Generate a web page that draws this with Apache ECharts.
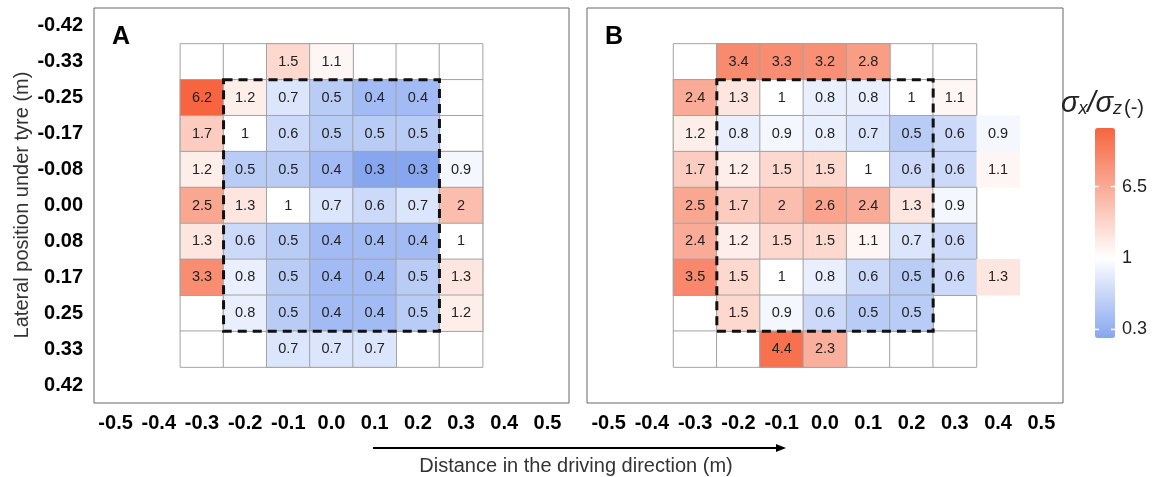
<!DOCTYPE html>
<html><head><meta charset="utf-8">
<script src="https://cdn.jsdelivr.net/npm/echarts@6/dist/echarts.min.js"></script>
<style>html,body{margin:0;padding:0;background:#fff}#c{width:1167px;height:477px}</style>
</head><body><div id="c"></div>
<script>
// ---- data ----
const xLabels = ['-0.5','-0.4','-0.3','-0.2','-0.1','0.0','0.1','0.2','0.3','0.4','0.5'];
const yLabels = ['-0.42','-0.33','-0.25','-0.17','-0.08','0.00','0.08','0.17','0.25','0.33','0.42'];
const frameCols = ['-0.3','-0.2','-0.1','0.0','0.1','0.2','0.3'];
const dataRows = ['-0.33','-0.25','-0.17','-0.08','0.00','0.08','0.17','0.25','0.33'];

const colsA = ['-0.3','-0.2','-0.1','0.0','0.1','0.2','0.3'];
const valuesA = [
  [null, null, 1.5, 1.1, null, null, null],
  [6.2, 1.2, 0.7, 0.5, 0.4, 0.4, null],
  [1.7, 1,   0.6, 0.5, 0.5, 0.5, null],
  [1.2, 0.5, 0.5, 0.4, 0.3, 0.3, 0.9],
  [2.5, 1.3, 1,   0.7, 0.6, 0.7, 2],
  [1.3, 0.6, 0.5, 0.4, 0.4, 0.4, 1],
  [3.3, 0.8, 0.5, 0.4, 0.4, 0.5, 1.3],
  [null, 0.8, 0.5, 0.4, 0.4, 0.5, 1.2],
  [null, null, 0.7, 0.7, 0.7, null, null]
];
const colsB = ['-0.3','-0.2','-0.1','0.0','0.1','0.2','0.3','0.4'];
const valuesB = [
  [null, 3.4, 3.3, 3.2, 2.8, null, null, null],
  [2.4, 1.3, 1,   0.8, 0.8, 1,   1.1, null],
  [1.2, 0.8, 0.9, 0.8, 0.7, 0.5, 0.6, 0.9],
  [1.7, 1.2, 1.5, 1.5, 1,   0.6, 0.6, 1.1],
  [2.5, 1.7, 2,   2.6, 2.4, 1.3, 0.9, null],
  [2.4, 1.2, 1.5, 1.5, 1.1, 0.7, 0.6, null],
  [3.5, 1.5, 1,   0.8, 0.6, 0.5, 0.6, 1.3],
  [null, 1.5, 0.9, 0.6, 0.5, 0.5, null, null],
  [null, null, 4.4, 2.3, null, null, null, null]
];
const unframedCols = ['0.4'];
const dashedBox = { x: ['-0.2', '0.2'], y: ['-0.25', '0.25'] };
const colorbarTicks = ['0.3', '1', '6.5'];
const panelLetters = ['A', 'B'];

// ---- styles ----
const FONT = '"Liberation Sans", Arial, sans-serif';
const BLUE = [134, 166, 240], WHITE = [255, 255, 255], RED = [246, 101, 64];
const gridsPx = [{ left: 94, top: 8, width: 475, height: 395 }, { left: 587, top: 8, width: 476, height: 395 }];
const CB = { left: 1095, top: 128, w: 20, h: 210, min: -0.12, max: 2.82 };

function colorT(v) { // log-scaled diverging position in [-1,1]
  const l = Math.log10(v);
  const t = l < 0 ? l / 0.523 : l / 0.7;
  return Math.max(-1, Math.min(1, t));
}
function mix(a, b, f) { return 'rgb(' + a.map((c, i) => Math.round(c + (b[i] - c) * f)).join(',') + ')'; }
const barStops = [];
for (let k = 0; k <= 40; k++) {
  const u = CB.min + (CB.max - CB.min) * k / 40;
  barStops.push(u < 1 ? mix(BLUE, WHITE, (u - CB.min) / (1 - CB.min)) : mix(WHITE, RED, (u - 1) / (CB.max - 1)));
}

function frameData() {
  const d = [];
  dataRows.forEach(r => frameCols.forEach(c => d.push([xLabels.indexOf(c), yLabels.indexOf(r), 0])));
  return d;
}
function valueData(cols, vals) {
  const d = [];
  vals.forEach((row, ri) => row.forEach((v, ci) => {
    if (v === null) return;
    const item = { value: [xLabels.indexOf(cols[ci]), yLabels.indexOf(dataRows[ri]), v, colorT(v)] };
    if (unframedCols.includes(cols[ci])) item.itemStyle = { borderWidth: 0 };
    d.push(item);
  }));
  return d;
}
const boxData = [[xLabels.indexOf(dashedBox.x[0]), yLabels.indexOf(dashedBox.y[0]),
                  xLabels.indexOf(dashedBox.x[1]), yLabels.indexOf(dashedBox.y[1])]];

function panelSeries(gi, cols, vals) {
  return [
    { type: 'heatmap', xAxisIndex: gi, yAxisIndex: gi, data: frameData(), silent: true,
      itemStyle: { color: '#fff', borderColor: '#a3a3a3', borderWidth: 1 }, emphasis: { disabled: true } },
    { type: 'heatmap', xAxisIndex: gi, yAxisIndex: gi, data: valueData(cols, vals), silent: true,
      itemStyle: { borderColor: '#a3a3a3', borderWidth: 1 }, emphasis: { disabled: true },
      label: { show: true, formatter: p => String(p.value[2]), fontSize: 14.5, color: '#222', fontFamily: FONT } },
    { type: 'custom', xAxisIndex: gi, yAxisIndex: gi, data: boxData, silent: true, z: 10,
      encode: { x: [0, 2], y: [1, 3] },
      renderItem: (params, api) => {
        const p0 = api.coord([api.value(0), api.value(1)]);
        const p1 = api.coord([api.value(2), api.value(3)]);
        const s = api.size([1, 1]);
        return { type: 'rect',
          shape: { x: p0[0] - s[0] / 2, y: p0[1] - s[1] / 2, width: p1[0] - p0[0] + s[0], height: p1[1] - p0[1] + s[1] },
          style: { fill: 'none', stroke: '#111', lineWidth: 3, lineDash: [9, 6] } };
      } }
  ];
}

const series = [...panelSeries(0, colsA, valuesA), ...panelSeries(1, colsB, valuesB),
  { type: 'heatmap', xAxisIndex: 1, yAxisIndex: 1, data: [] }];

const cbY = u => CB.top + CB.h * (1 - (u - CB.min) / (CB.max - CB.min));
const graphics = [];
colorbarTicks.forEach((t, i) => {
  const y = cbY(i);
  graphics.push({ type: 'text', x: CB.left + CB.w + 7, y: y, style: { text: t, font: '18px ' + FONT, fill: '#222', textVerticalAlign: 'middle' } });
  graphics.push({ type: 'line', shape: { x1: CB.left, y1: y, x2: CB.left + 4, y2: y }, style: { stroke: '#fff', lineWidth: 1.5 }, z: 100 });
  graphics.push({ type: 'line', shape: { x1: CB.left + CB.w - 4, y1: y, x2: CB.left + CB.w, y2: y }, style: { stroke: '#fff', lineWidth: 1.5 }, z: 100 });
});
panelLetters.forEach((L, i) => graphics.push({ type: 'text', x: gridsPx[i].left + 18, y: 25,
  style: { text: L, font: 'bold 25px ' + FONT, fill: '#000' } }));
graphics.push({ type: 'text', x: 22, y: 205, rotation: Math.PI / 2,
  style: { text: 'Lateral position under tyre (m)', font: '20px ' + FONT, fill: '#333', textAlign: 'center', textVerticalAlign: 'middle' } });
graphics.push({ type: 'text', x: 576, y: 466,
  style: { text: 'Distance in the driving direction (m)', font: '20px ' + FONT, fill: '#333', textAlign: 'center', textVerticalAlign: 'middle' } });
graphics.push({ type: 'line', shape: { x1: 373, y1: 448, x2: 778, y2: 448 }, style: { stroke: '#000', lineWidth: 2 } });
graphics.push({ type: 'polygon', shape: { points: [[786, 448], [776, 444], [776, 452]] }, style: { fill: '#000' } });
graphics.push({ type: 'text', x: 1061, y: 84,
  style: { text: '{s|σ}{sub|x}{s|/σ}{sub|z}{p|(-)}', fill: '#222',
    rich: { s: { fontSize: 29, fontStyle: 'italic', fontFamily: FONT, lineHeight: 34, verticalAlign: 'bottom' },
            sub: { fontSize: 18, fontStyle: 'italic', fontFamily: FONT, lineHeight: 24, verticalAlign: 'bottom' },
            p: { fontSize: 20, fontFamily: FONT, lineHeight: 32, verticalAlign: 'bottom', padding: [0, 0, 0, 2] } } } });

const axisLbl = { fontSize: 20, fontWeight: 'bold', color: '#000', fontFamily: FONT, interval: 0 };
const option = {
  animation: false,
  grid: gridsPx.map(g => ({ ...g, show: true, borderColor: '#666', borderWidth: 1, containLabel: false })),
  xAxis: [0, 1].map(gi => ({ type: 'category', gridIndex: gi, data: xLabels, axisLine: { show: false },
    axisTick: { show: false }, splitLine: { show: false }, axisLabel: { ...axisLbl, margin: 10 } })),
  yAxis: [0, 1].map(gi => ({ type: 'category', gridIndex: gi, data: yLabels, inverse: true, axisLine: { show: false },
    axisTick: { show: false }, splitLine: { show: false }, axisLabel: { ...axisLbl, show: gi === 0, margin: 11 } })),
  visualMap: [
    { type: 'continuous', show: false, seriesIndex: [1, 4], dimension: 3, min: -1, max: 1,
      inRange: { color: [mix(BLUE, WHITE, 0), '#ffffff', mix(RED, RED, 0)] } },
    { type: 'continuous', show: true, seriesIndex: [6], min: CB.min, max: CB.max, calculable: false,
      left: CB.left, top: CB.top, itemWidth: CB.w, itemHeight: CB.h, padding: 0, text: null,
      inRange: { color: barStops }, hoverLink: false }
  ],
  graphic: graphics,
  series: series
};
const chart = echarts.init(document.getElementById('c'), null, { renderer: 'canvas' });
chart.setOption(option);
</script>
</body></html>
